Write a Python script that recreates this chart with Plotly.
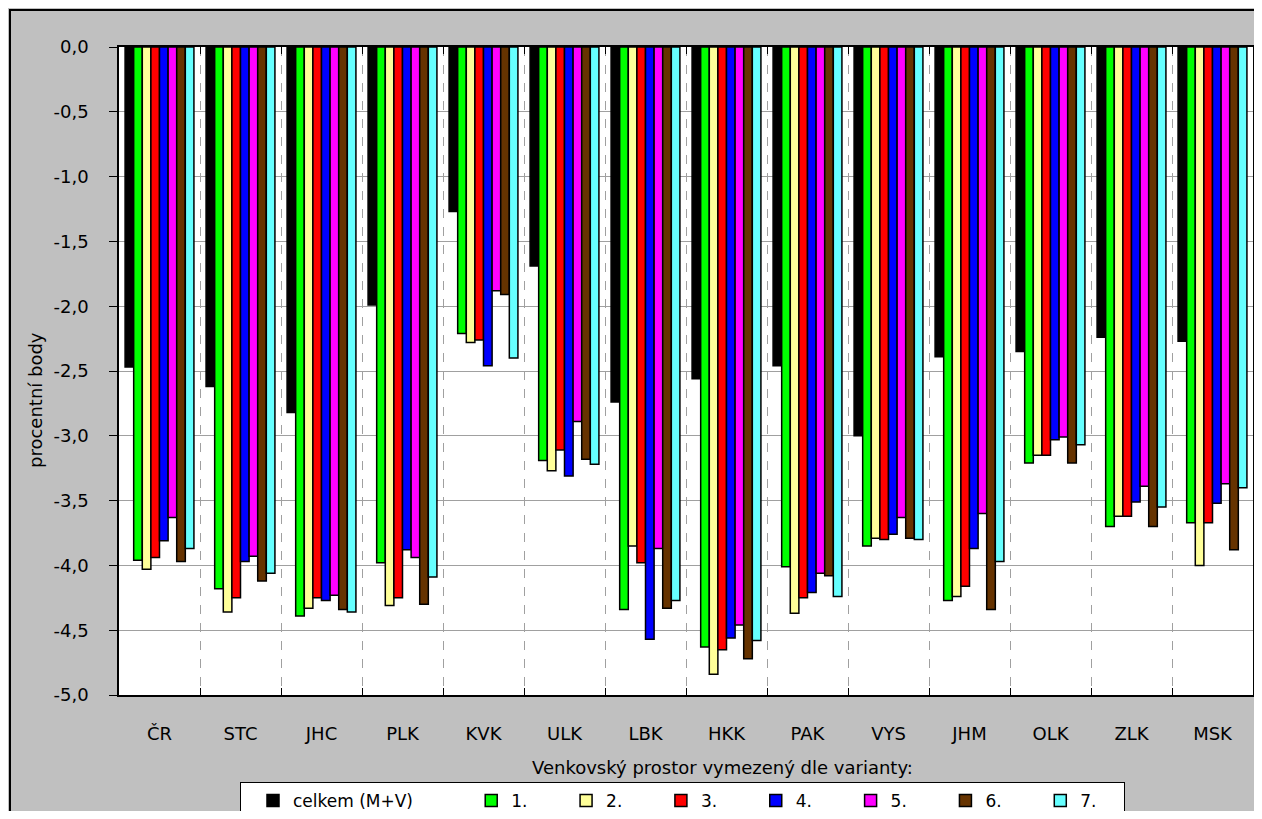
import plotly.graph_objects as go

categories = ["ČR", "STC", "JHC", "PLK", "KVK", "ULK", "LBK", "HKK", "PAK", "VYS", "JHM", "OLK", "ZLK", "MSK"]

series_names = ["celkem (M+V)", "1.", "2.", "3.", "4.", "5.", "6.", "7."]

celkem = [-2.47, -2.62, -2.82, -1.99, -1.27, -1.69, -2.74, -2.56, -2.46, -3.00, -2.39, -2.35, -2.24, -2.27]
var1 = [-3.96, -4.18, -4.39, -3.98, -2.21, -3.19, -4.34, -4.63, -4.01, -3.85, -4.27, -3.21, -3.70, -3.67]
var2 = [-4.03, -4.36, -4.33, -4.31, -2.28, -3.27, -3.85, -4.84, -4.37, -3.79, -4.24, -3.15, -3.62, -4.00]
var3 = [-3.94, -4.25, -4.25, -4.25, -2.26, -3.11, -3.98, -4.65, -4.25, -3.80, -4.16, -3.15, -3.62, -3.67]
var4 = [-3.81, -3.97, -4.27, -3.88, -2.46, -3.31, -4.57, -4.56, -4.21, -3.76, -3.87, -3.03, -3.51, -3.52]
var5 = [-3.63, -3.93, -4.23, -3.94, -1.88, -2.89, -3.87, -4.46, -4.06, -3.63, -3.60, -3.01, -3.39, -3.37]
var6 = [-3.97, -4.12, -4.34, -4.30, -1.91, -3.18, -4.33, -4.72, -4.08, -3.79, -4.34, -3.21, -3.70, -3.88]
var7 = [-3.87, -4.06, -4.36, -4.09, -2.40, -3.22, -4.27, -4.58, -4.24, -3.80, -3.97, -3.07, -3.55, -3.40]

y_tick_values = [0.0, -0.5, -1.0, -1.5, -2.0, -2.5, -3.0, -3.5, -4.0, -4.5, -5.0]
y_tick_labels = ["0,0", "-0,5", "-1,0", "-1,5", "-2,0", "-2,5", "-3,0", "-3,5", "-4,0", "-4,5", "-5,0"]

colors = ["#000000", "#00FF00", "#FFFF99", "#FF0000", "#0000FF", "#FF00FF", "#663300", "#66FFFF"]

x_title = "Venkovský prostor vymezený dle varianty:"
y_title = "procentní body"

FONT = "DejaVu Sans, Liberation Sans, Arial, sans-serif"
NB = "\u00a0"
TH = "\u2009"

# legend spacing padding (text only)
pads = [NB * 7 + TH] + [NB * 4] * 6 + [NB * 4]

all_series = [celkem, var1, var2, var3, var4, var5, var6, var7]

fig = go.Figure()
for name, vals, col, pad in zip(series_names, all_series, colors, pads):
    fig.add_trace(go.Bar(
        x=categories, y=vals, name=name + pad,
        marker=dict(color=col, line=dict(color="#000000", width=1.5)),
    ))

# page has an 8px body margin; figure sized so the page does not overflow
OFF = 8
W, H = 1262 - 2 * OFF, 819 - 2 * OFF
plot_left, plot_right, plot_top, plot_bottom = 119, 1253, 47, 695  # page px
L = plot_left - OFF
T = plot_top - OFF
R = W - (plot_right - OFF)
B = H - (plot_bottom - OFF)
pw = W - L - R
ph = H - T - B


def px_x(px):
    return (px - OFF - L) / pw


def px_y(py):
    return ((plot_bottom - OFF) - (py - OFF)) / ph


fig.update_layout(
    width=W, height=H,
    margin=dict(l=L, r=R, t=T, b=B, pad=0, autoexpand=False),
    paper_bgcolor="#C0C0C0",
    plot_bgcolor="#FFFFFF",
    barmode="group",
    bargap=0.15,
    bargroupgap=0,
    font=dict(family=FONT, size=18, color="#000000"),
    showlegend=True,
    legend=dict(
        orientation="h",
        x=px_x(240), xanchor="left",
        y=px_y(782), yanchor="top",
        bgcolor="#FFFFFF",
        bordercolor="#000000",
        borderwidth=1,
        indentation=12,
        font=dict(family=FONT, size=17, color="#000000"),
        traceorder="normal",
    ),
    xaxis=dict(
        type="category",
        tickson="boundaries",
        showgrid=True,
        gridcolor="#A0A0A0",
        griddash="dash",
        gridwidth=1,
        ticks="inside",
        ticklen=7,
        tickcolor="#000000",
        showline=True,
        linecolor="#000000",
        linewidth=1.5,
        mirror="ticks",
        automargin=False,
        ticklabelstandoff=22,
        tickfont=dict(family=FONT, size=18, color="#000000"),
    ),
    yaxis=dict(
        range=[-5, 0],
        tickmode="array",
        tickvals=y_tick_values,
        ticktext=y_tick_labels,
        showgrid=True,
        gridcolor="#A0A0A0",
        gridwidth=1,
        zeroline=False,
        ticks="outside",
        ticklen=8,
        tickcolor="#000000",
        showline=True,
        linecolor="#000000",
        linewidth=1.5,
        mirror=True,
        automargin=False,
        ticklabelstandoff=17,
        tickfont=dict(family=FONT, size=18, color="#000000"),
    ),
    annotations=[
        dict(text=x_title, xref="paper", yref="paper",
             x=px_x(722), y=px_y(767), xanchor="center", yanchor="middle",
             showarrow=False, font=dict(family=FONT, size=18, color="#000000")),
        dict(text=y_title, xref="paper", yref="paper",
             x=px_x(35), y=px_y(400), xanchor="center", yanchor="middle",
             textangle=-90,
             showarrow=False, font=dict(family=FONT, size=18, color="#000000")),
    ],
    shapes=[
        dict(type="rect", xref="paper", yref="paper",
             x0=px_x(10), y0=px_y(10), x1=px_x(1290), y1=px_y(850),
             line=dict(color="#000000", width=2), fillcolor="rgba(0,0,0,0)",
             layer="below"),
    ],
)

fig.write_html("out.html")
